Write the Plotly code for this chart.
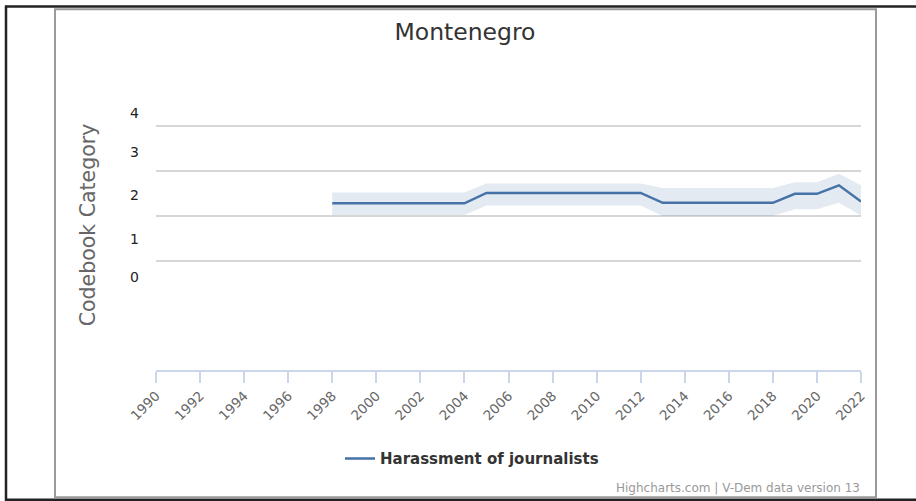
import plotly.graph_objects as go

# ---- data ----
years = list(range(1998, 2023))
values = [1.79]*7 + [2.02]*8 + [1.80]*6 + [2.00, 2.00, 2.19, 1.83]
upper = [2.03]*7 + [2.23]*8 + [2.13]*6 + [2.26, 2.26, 2.45, 2.19]
lower = [1.53]*7 + [1.74]*8 + [1.51]*6 + [1.66, 1.66, 1.80, 1.52]
y_tick_text = ["0", "1", "2", "3", "4"]
series_name = "Harassment of journalists"
chart_title = "Montenegro"
y_title = "Codebook Category"
credits = "Highcharts.com | V-Dem data version 13"

# ---- styling ----
y_label_pos = [0.14, 0.99, 1.97, 2.94, 3.79]   # where the category labels sit
grid_pos = [0.5, 1.5, 2.5, 3.5]                 # category boundary grid lines

W, H = 916, 501
L, R, T, B = 156, 861, 103.5, 370
PW, PH = R - L, B - T

def px(x):
    return (x - L) / PW

def py(y):
    return (B - y) / PH

FONT = "DejaVu Sans, sans-serif"

fig = go.Figure()
fig.add_trace(go.Scatter(x=years, y=upper, mode="lines", line=dict(width=0),
                         showlegend=False, hoverinfo="skip"))
fig.add_trace(go.Scatter(x=years, y=lower, mode="lines", line=dict(width=0),
                         fill="tonexty", fillcolor="rgba(69,114,167,0.15)",
                         showlegend=False, hoverinfo="skip"))
fig.add_trace(go.Scatter(x=years, y=values, mode="lines", name=series_name,
                         line=dict(color="#4572a7", width=2.5)))

shapes = [
    dict(type="line", xref="paper", yref="paper", x0=px(5), x1=px(916), y0=py(5.8), y1=py(5.8),
         line=dict(color="#222", width=2.5)),
    dict(type="line", xref="paper", yref="paper", x0=px(6), x1=px(6), y0=py(5), y1=py(501),
         line=dict(color="#222", width=2.5)),
    dict(type="line", xref="paper", yref="paper", x0=px(5), x1=px(916), y0=py(500), y1=py(500),
         line=dict(color="#222", width=2.5)),
    dict(type="rect", xref="paper", yref="paper", x0=px(55), x1=px(876), y0=py(8.5), y1=py(497.5),
         line=dict(color="#9a9a9a", width=2)),
]

annotations = [
    dict(text=y_title, xref="paper", yref="paper", x=px(88), y=py(225), textangle=-90,
         showarrow=False, font=dict(family=FONT, size=20.5, color="#666"),
         xanchor="center", yanchor="middle"),
    dict(text=credits, xref="paper", yref="paper", x=px(862), y=py(488),
         showarrow=False, font=dict(family=FONT, size=12, color="#999"),
         xanchor="right", yanchor="middle"),
]

fig.update_layout(
    width=W, height=H,
    margin=dict(l=L, r=W - R, t=T, b=H - B, pad=0),
    paper_bgcolor="white", plot_bgcolor="white",
    title=dict(text=chart_title, x=465 / W, y=1 - 32 / H, xref="container", yref="container",
               xanchor="center", yanchor="middle",
               font=dict(family=FONT, size=23.5, color="#333")),
    xaxis=dict(range=[1990, 2022], tickmode="linear", tick0=1990, dtick=2,
               tickangle=-45, showgrid=False, zeroline=False,
               showline=True, linecolor="#ccd6eb", linewidth=1.5,
               ticks="outside", ticklen=11, tickcolor="#ccd6eb", tickwidth=1.5,
               tickfont=dict(family=FONT, size=13.5, color="#666")),
    yaxis=dict(range=[-1.92, 4.0], tickmode="array", tickvals=y_label_pos, ticktext=y_tick_text,
               showgrid=False, zeroline=False, showline=False, ticks="",
               ticklabelstandoff=16,
               tickfont=dict(family=FONT, size=14, color="#222"),
               minor=dict(tickmode="array", tickvals=grid_pos, showgrid=True,
                          gridcolor="#d6d6d6", gridwidth=2, ticks="")),
    legend=dict(orientation="h", x=px(472), y=py(459), xanchor="center", yanchor="middle",
                font=dict(family=FONT, size=15, color="#333", weight="bold"),
                bgcolor="rgba(0,0,0,0)"),
    shapes=shapes,
    annotations=annotations,
    showlegend=True,
)

fig.write_html("out.html", config={"displayModeBar": False},
               post_script="document.body.style.margin='0';")
